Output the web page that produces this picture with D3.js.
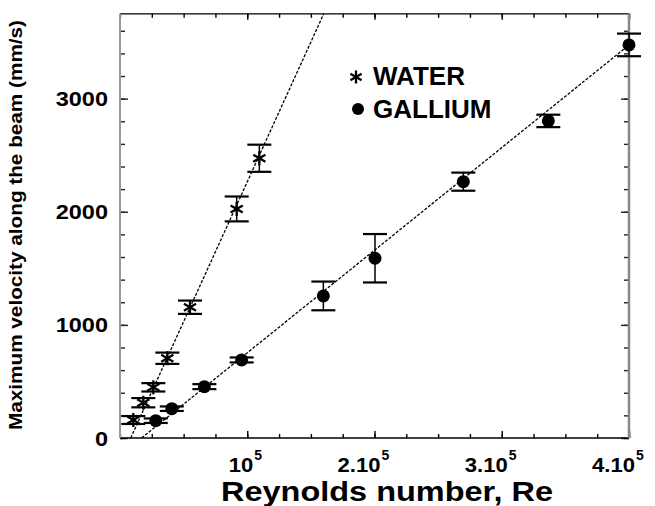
<!DOCTYPE html>
<html>
<head>
<meta charset="utf-8">
<script src="https://cdn.jsdelivr.net/npm/d3@7"></script>
<style>
  html, body { margin: 0; padding: 0; background: #fff; }
  svg { display: block; }
  text { font-family: "Liberation Sans", Arial, Helvetica, sans-serif; font-weight: bold; fill: #000; }
</style>
</head>
<body>
<svg id="chart" width="655" height="506"></svg>
<script>
// Measured velocities vs Reynolds number
const waterRe  = [10450, 18300, 26200, 37200, 55000, 91700, 109500];
const waterV   = [159, 312, 448, 705, 1156, 2025, 2473];
const waterErr = [35, 41, 37, 50, 59, 110, 120];

const galliumRe  = [28100, 40700, 66300, 95600, 159800, 200400, 269800, 336600, 400000];
const galliumV   = [153, 259, 454, 690, 1256, 1589, 2266, 2803, 3475];
const galliumErr = [20, 20, 22, 22, 127, 214, 80, 55, 100];

// Linear fits (end points in data units)
const waterFitRe   = [8400, 160100];
const waterFitV    = [0, 3750];
const galliumFitRe = [17000, 400000];
const galliumFitV  = [0, 3474];

// Axis ticks and labels
const xMajor = [100000, 200000, 300000, 400000];
const xTickLabels = ["10", "2.10", "3.10", "4.10"];
const xTickExp = "5";
const yMajor = [0, 1000, 2000, 3000];
const yTickLabels = ["0", "1000", "2000", "3000"];
const legendLabels = ["WATER", "GALLIUM"];

const svg = d3.select("#chart");
const L = 120, R = 629, T = 13.8, B = 438;

const x = d3.scaleLinear().domain([0, 400000]).range([L, R]);
const y = d3.scaleLinear().domain([0, 3750]).range([B, T]);

// Ticks
function ticks(axis, transform, color) {
  const g = svg.append("g").attr("transform", transform).call(axis);
  g.select(".domain").remove();
  g.selectAll(".tick line").attr("stroke", color).attr("stroke-width", 1.4);
  g.selectAll(".tick text").remove();
  return g;
}
const xMinor = d3.range(0, 400001, 25000);
const yMinor = d3.range(0, 3751, 200);
ticks(d3.axisBottom(x).tickValues(xMinor).tickSize(-4), `translate(0,${B})`, "#000");
ticks(d3.axisBottom(x).tickValues(xMajor).tickSize(-7), `translate(0,${B})`, "#000");
ticks(d3.axisTop(x).tickValues(xMinor).tickSize(-4), `translate(0,${T})`, "#000");
ticks(d3.axisTop(x).tickValues(xMajor).tickSize(-6), `translate(0,${T})`, "#000");
ticks(d3.axisLeft(y).tickValues(yMinor).tickSize(-5), `translate(${L},0)`, "#222");
ticks(d3.axisLeft(y).tickValues(yMajor).tickSize(-8), `translate(${L},0)`, "#222");
ticks(d3.axisRight(y).tickValues(yMinor).tickSize(-5), `translate(${R},0)`, "#222");
ticks(d3.axisRight(y).tickValues(yMajor).tickSize(-8), `translate(${R},0)`, "#222");

// Frame
svg.append("line").attr("x1", L).attr("x2", R).attr("y1", T).attr("y2", T)
  .attr("stroke", "#000").attr("stroke-width", 1.3);
svg.append("line").attr("x1", L).attr("x2", R).attr("y1", B).attr("y2", B)
  .attr("stroke", "#000").attr("stroke-width", 1.6);
svg.append("line").attr("x1", L).attr("x2", L).attr("y1", T).attr("y2", B)
  .attr("stroke", "#999").attr("stroke-width", 2);
svg.append("line").attr("x1", R).attr("x2", R).attr("y1", T).attr("y2", B)
  .attr("stroke", "#888").attr("stroke-width", 2.5);

// Text helper with horizontal scaling
function label(px, py, txt, size, anchor, sx) {
  const g = svg.append("g").attr("transform", `translate(${px},${py}) scale(${sx},1)`);
  return g.append("text").attr("text-anchor", anchor).attr("font-size", size).text(txt);
}

// Y tick labels
yMajor.forEach((v, i) => label(108, y(v) + 7.5, yTickLabels[i], 21, "end", 1.12));

// X tick labels with superscript exponent
xMajor.forEach((v, i) => {
  label(x(v) + 6, 472, xTickLabels[i], 21, "end", 1.05);
  label(x(v) + 7, 460, xTickExp, 14, "start", 1.0);
});

// Axis titles
svg.append("text").attr("x", 221).attr("y", 501).attr("font-size", 28)
  .attr("textLength", 332).attr("lengthAdjust", "spacingAndGlyphs")
  .text("Reynolds number, Re");
svg.append("text").attr("transform", "translate(22,430) rotate(-90)")
  .attr("font-size", 18).attr("textLength", 410).attr("lengthAdjust", "spacingAndGlyphs")
  .text("Maximum velocity along the beam (mm/s)");

// Fit lines
const line = d3.line().x(d => x(d[0])).y(d => y(d[1]));
[[waterFitRe, waterFitV], [galliumFitRe, galliumFitV]].forEach(([re, v]) => {
  svg.append("path").datum(re.map((r, i) => [r, v[i]]))
    .attr("d", line).attr("fill", "none").attr("stroke", "#000")
    .attr("stroke-width", 1.3).attr("stroke-dasharray", "3,1.6");
});

// Error bars
function errorBars(re, v, err) {
  const g = svg.append("g").attr("stroke", "#000");
  re.forEach((r, i) => {
    const cx = x(r), y1 = y(v[i] + err[i]), y2 = y(v[i] - err[i]);
    g.append("line").attr("x1", cx).attr("x2", cx).attr("y1", y1).attr("y2", y2).attr("stroke-width", 1.5);
    [y1, y2].forEach(yy => g.append("line").attr("x1", cx - 12).attr("x2", cx + 12)
      .attr("y1", yy).attr("y2", yy).attr("stroke-width", 2.2));
  });
}
errorBars(waterRe, waterV, waterErr);
errorBars(galliumRe, galliumV, galliumErr);

// Asterisk marker
function asterisk(g, cx, cy, r) {
  [90, 30, -30].forEach(a => {
    const dx = r * Math.cos(a * Math.PI / 180), dy = r * Math.sin(a * Math.PI / 180);
    g.append("line").attr("x1", cx - dx).attr("x2", cx + dx).attr("y1", cy - dy).attr("y2", cy + dy)
      .attr("stroke", "#000").attr("stroke-width", 2.3);
  });
}
const wg = svg.append("g");
waterRe.forEach((r, i) => asterisk(wg, x(r), y(waterV[i]), 7));

svg.append("g").selectAll("circle").data(galliumRe).join("circle")
  .attr("cx", d => x(d)).attr("cy", (d, i) => y(galliumV[i])).attr("r", 6.5).attr("fill", "#000");

// Legend
asterisk(svg.append("g"), 356, 77, 6.5);
svg.append("circle").attr("cx", 358).attr("cy", 109).attr("r", 6).attr("fill", "#000");
label(373, 85, legendLabels[0], 26, "start", 1.0);
label(373, 118, legendLabels[1], 26, "start", 1.0);
</script>
</body>
</html>
